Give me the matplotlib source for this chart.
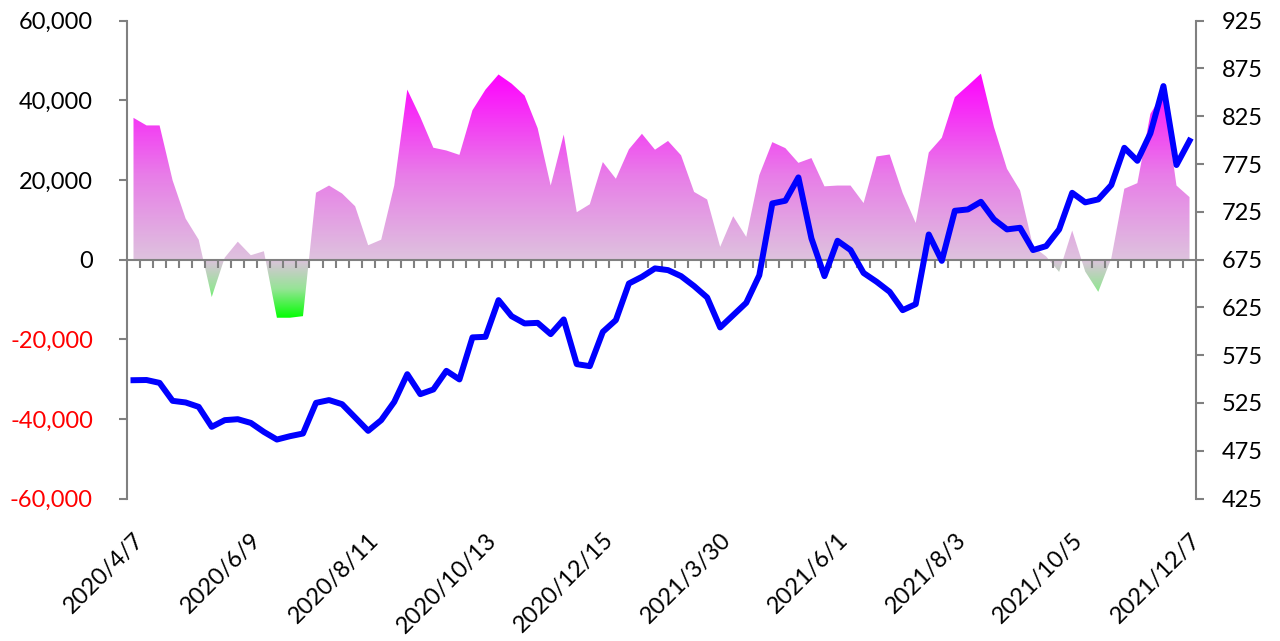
import numpy as np
import matplotlib.pyplot as plt
from matplotlib.colors import LinearSegmentedColormap

plt.rcParams['font.family'] = ['Lato', 'DejaVu Sans']

# etiquetas del eje x (una cada 9 semanas)
tick_labels = ['2020/4/7', '2020/6/9', '2020/8/11', '2020/10/13', '2020/12/15',
               '2021/3/30', '2021/6/1', '2021/8/3', '2021/10/5', '2021/12/7']

# serie de area (eje izquierdo)
net = [35600, 33700, 33700, 19900, 10300, 5000, -9400, 500, 4500, 1100,
       2100, -14600, -14600, -14200, 16800, 18600, 16600, 13400, 3600, 5000,
       18600, 42700, 35800, 28100, 27400, 26300, 37500, 42700, 46500, 44200,
       41200, 33000, 18600, 31400, 11900, 13900, 24500, 20300, 27700, 31600,
       27600, 29800, 26200, 17000, 15100, 3200, 10900, 5700, 21200, 29500,
       28000, 24300, 25500, 18400, 18600, 18600, 14200, 25900, 26400, 16700,
       9200, 26900, 30600, 40800, 43700, 46700, 33300, 22800, 17400, 3300,
       800, -3100, 7300, -3000, -8100, 300, 17800, 19200, 36600, 42000,
       18600, 15700]

# serie de linea (eje derecho)
price = [548.8, 549, 546, 527.2, 525.5, 520.9, 500, 507, 508, 504.1,
         494.7, 486.7, 490.2, 493, 525.1, 528, 523.7, 509.8, 495.8, 507,
         526.1, 555.1, 534.2, 539.1, 558.6, 549.6, 593.6, 594.2, 632.6, 615.8,
         608.2, 608.8, 597, 612.4, 565.6, 563.5, 599.4, 611.7, 650, 657,
         665.8, 664, 657.7, 647.3, 635.4, 604, 616.9, 629.8, 658.6, 733.8,
         736.6, 761, 697.2, 657.7, 694.7, 685, 661, 651.8, 641.3, 622.1,
         628.4, 701.3, 673.7, 726.1, 727.5, 735.5, 717.1, 706.6, 708.3, 685,
         689.1, 706.6, 744.9, 734.9, 738, 753, 792, 778.4, 807.1, 856.6,
         774, 799.4]

x = np.arange(len(net))
n = len(net)
grey = '#808080'

fig = plt.figure(figsize=(12.8, 6.41), dpi=100)
ax = fig.add_axes([0.0992, 0.2223, 0.8352, 0.7454])
ax2 = ax.twinx()

# relleno con degradado: verde abajo, rosa claro en cero, magenta arriba
gmin, gmax = -15000, 47000
z0 = (0 - gmin) / (gmax - gmin)
cmap = LinearSegmentedColormap.from_list('area', [
    (0.0, (0 / 255, 255 / 255, 0 / 255)),
    (z0 * 0.5, (150 / 255, 228 / 255, 150 / 255)),
    (z0, (222 / 255, 194 / 255, 222 / 255)),
    (z0 + (1 - z0) * 0.45, (232 / 255, 125 / 255, 232 / 255)),
    (1.0, (255 / 255, 0 / 255, 255 / 255)),
])
poly = ax.fill_between(x, net, 0, color='none', lw=0)
grad = np.linspace(gmin, gmax, 256).reshape(-1, 1)
im = ax.imshow(grad, extent=[-0.5, n - 0.5, gmin, gmax], origin='lower',
               aspect='auto', cmap=cmap, vmin=gmin, vmax=gmax,
               interpolation='bilinear', zorder=1)
im.set_clip_path(poly.get_paths()[0], transform=ax.transData)

ax2.plot(x, price, color='#0000FF', lw=4.3, solid_joinstyle='round', zorder=3)

ax.set_xlim(-0.5, n - 0.5)
ax.set_ylim(-60000, 60000)
ax2.set_ylim(425, 925)

# ejes
for s in ['top', 'right']:
    ax.spines[s].set_visible(False)
ax.spines['left'].set_color(grey)
ax.spines['left'].set_linewidth(1.5)
ax.spines['bottom'].set_position(('data', 0))
ax.spines['bottom'].set_color(grey)
ax.spines['bottom'].set_linewidth(1.5)
for s in ['top', 'left', 'bottom']:
    ax2.spines[s].set_visible(False)
ax2.spines['right'].set_color(grey)
ax2.spines['right'].set_linewidth(1.5)

yt = list(range(-60000, 60001, 20000))
ax.set_yticks(yt, labels=[f'{v:,}' for v in yt])
for v, lbl in zip(yt, ax.get_yticklabels()):
    lbl.set_color('#FF0000' if v < 0 else 'black')
ax.tick_params(axis='y', direction='out', length=5.5, width=1.5, color=grey,
               pad=19, labelsize=17)

yt2 = list(range(425, 926, 50))
ax2.set_yticks(yt2, labels=[str(v) for v in yt2])
ax2.tick_params(axis='y', direction='out', length=5.5, width=1.5, color=grey,
                pad=13, labelsize=17)

# marcas menores entre categorias sobre la linea cero
ax.set_xticks(x[::9], labels=tick_labels)
ax.set_xticks(np.arange(0.5, n - 1, 1), minor=True)
ax.tick_params(axis='x', which='minor', direction='out', length=5.5, width=1.5, color=grey)
ax.tick_params(axis='x', which='major', length=0, labelbottom=False)

# etiquetas del eje x abajo, en el eje gemelo
ax2.xaxis.set_visible(True)
ax2.tick_params(axis='x', which='both', length=0, labelbottom=True, labeltop=False,
                bottom=True, top=False, pad=22, labelsize=17)
for lbl in ax2.get_xticklabels():
    lbl.set_rotation(45)
    lbl.set_ha('right')
    lbl.set_va('top')
    lbl.set_rotation_mode('anchor')

fig.savefig('out.png', dpi=100)
